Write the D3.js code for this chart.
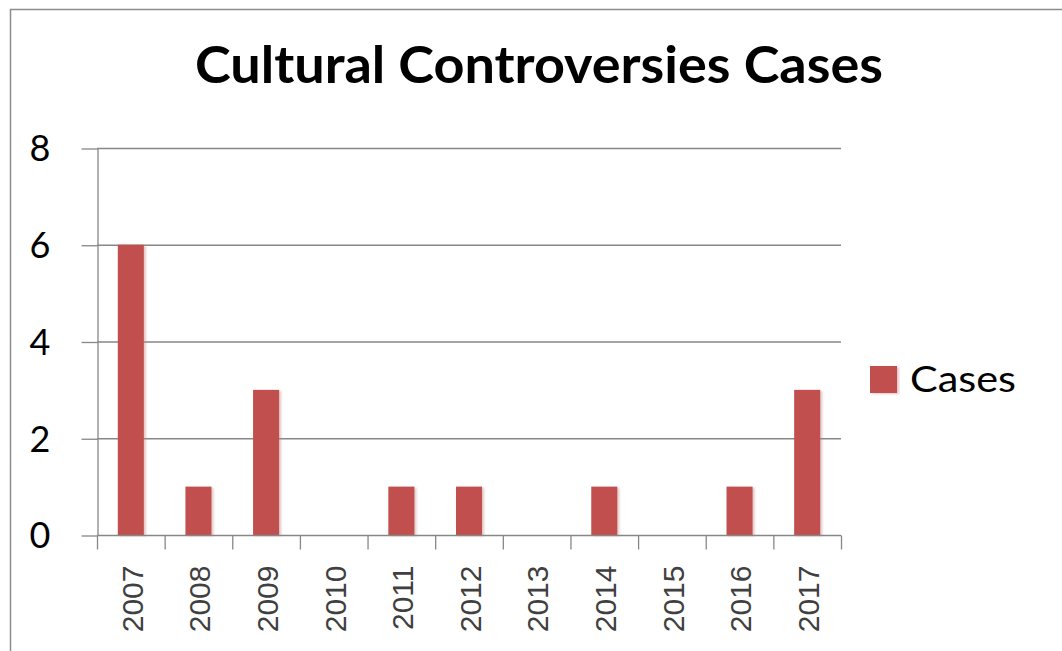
<!DOCTYPE html>
<html>
<head>
<meta charset="utf-8">
<script src="https://cdn.jsdelivr.net/npm/d3@7"></script>
<style>
  html, body { margin: 0; padding: 0; background: #ffffff; }
  svg { display: block; }
</style>
</head>
<body>
<script>
const years = ["2007","2008","2009","2010","2011","2012","2013","2014","2015","2016","2017"];
const cases = [6, 1, 3, 0, 1, 1, 0, 1, 0, 1, 3];
const yTicks = [0, 2, 4, 6, 8];
const titleText = "Cultural Controversies Cases";
const seriesName = "Cases";

const W = 1062, H = 651;
const plot = { left: 97, right: 841, top: 148, bottom: 535 };
const barColor = "#c0504d";
const gridColor = "#878787";

const svg = d3.select("body").append("svg").attr("width", W).attr("height", H);

// chart border (only top and left visible in frame)
svg.append("rect").attr("x", 10.5).attr("y", 9.5).attr("width", W + 20).attr("height", H + 20)
  .attr("fill", "#ffffff").attr("stroke", "#8c8c8c").attr("stroke-width", 1.5);

const defs = svg.append("defs");
const f = defs.append("filter").attr("id", "shadow").attr("x", "-20%").attr("y", "-20%").attr("width", "150%").attr("height", "150%");
f.append("feDropShadow").attr("dx", 2).attr("dy", 1).attr("stdDeviation", 1.2).attr("flood-color", "#c08080").attr("flood-opacity", 0.45);

const x = d3.scaleBand().domain(years).range([plot.left, plot.right]).padding(0);
const y = d3.scaleLinear().domain([0, 8]).range([plot.bottom, plot.top]);

// gridlines
svg.append("g").selectAll("line").data(yTicks.filter(d => d > 0)).join("line")
  .attr("x1", plot.left).attr("x2", plot.right)
  .attr("y1", d => y(d) + 0.5).attr("y2", d => y(d) + 0.5)
  .attr("stroke", gridColor).attr("stroke-width", 1.3);

// y axis
const yAxis = svg.append("g").attr("transform", `translate(${plot.left + 0.5},0)`)
  .call(d3.axisLeft(y).tickValues(yTicks).tickSize(16).tickPadding(31).tickSizeOuter(0));
yAxis.select(".domain").attr("stroke", gridColor).attr("stroke-width", 1.3);
yAxis.selectAll(".tick line").attr("stroke", gridColor).attr("stroke-width", 1.3)
  .attr("transform", "translate(0,0.5)");
yAxis.selectAll(".tick text")
  .attr("font-family", "Lato, 'Open Sans', sans-serif").attr("font-size", 36)
  .attr("fill", "#000").attr("dy", "0.36em");

// bars
const barW = x.bandwidth() * 0.385;
svg.append("g").selectAll("rect").data(years.map((yr, i) => ({ yr, v: cases[i] })).filter(d => d.v > 0)).join("rect")
  .attr("x", d => x(d.yr) + x.bandwidth() / 2 - barW / 2)
  .attr("y", d => y(d.v))
  .attr("width", barW)
  .attr("height", d => y(0) - y(d.v))
  .attr("fill", barColor)
  .attr("filter", "url(#shadow)");

// x axis
const xAxisG = svg.append("g").attr("transform", `translate(0,${plot.bottom + 0.5})`);
xAxisG.append("line").attr("x1", plot.left).attr("x2", plot.right)
  .attr("stroke", gridColor).attr("stroke-width", 1.3);
const boundaries = years.map(d => x(d)).concat([x(years[years.length - 1]) + x.bandwidth()]);
xAxisG.selectAll("line.tk").data(boundaries).join("line").attr("class", "tk")
  .attr("x1", d => d + 0.5).attr("x2", d => d + 0.5).attr("y1", 0).attr("y2", 14)
  .attr("stroke", gridColor).attr("stroke-width", 1.3);
xAxisG.selectAll("text").data(years).join("text")
  .attr("transform", d => `translate(${x(d) + x.bandwidth() / 2 + 1},${30}) rotate(-90)`)
  .attr("text-anchor", "end").attr("dy", "0.36em")
  .attr("font-family", "'Liberation Sans', Arial, sans-serif").attr("font-size", 30)
  .attr("fill", "#404040")
  .text(d => d);

// title
svg.append("text").attr("x", 539).attr("y", 83).attr("text-anchor", "middle")
  .attr("font-family", "Lato, 'Open Sans', sans-serif").attr("font-weight", 700)
  .attr("font-size", 52).attr("fill", "#000")
  .attr("textLength", 688).attr("lengthAdjust", "spacingAndGlyphs")
  .text(titleText);

// legend
svg.append("rect").attr("x", 870).attr("y", 366).attr("width", 27).attr("height", 27)
  .attr("fill", barColor).attr("filter", "url(#shadow)");
svg.append("text").attr("x", 910).attr("y", 392)
  .attr("font-family", "Lato, 'Open Sans', sans-serif").attr("font-size", 37).attr("fill", "#000")
  .attr("textLength", 106).attr("lengthAdjust", "spacingAndGlyphs")
  .text(seriesName);
</script>
</body>
</html>
